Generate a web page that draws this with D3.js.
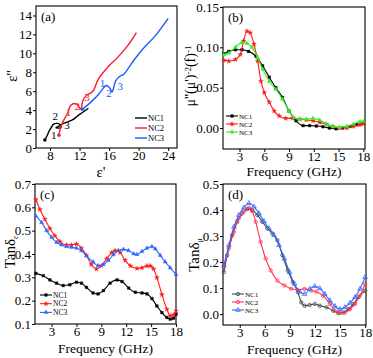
<!DOCTYPE html>
<html><head><meta charset="utf-8">
<script src="https://cdn.jsdelivr.net/npm/d3@7"></script>
<style>body{margin:0;background:#fff}svg{display:block}svg text{font-family:"Liberation Serif","Times New Roman",serif !important}</style>
</head><body><svg id="c" width="373" height="358"></svg>
<script>
// ---------- DATA ----------
const seriesNames = ["NC1","NC2","NC3"];
// (a) Cole-Cole: [eps', eps'']
const a_NC1 = [[7.3,0.85],[7.6,1.3],[7.95,1.9],[8.2,2.2],[8.45,2.5],[9.0,2.6],[9.4,2.45],[9.5,2.2],[9.1,2.1],[8.8,2.15],[9.2,2.3],[9.6,2.5],[10.0,2.65],[10.4,2.75],[11.1,3.0],[11.75,3.4],[12.4,3.75],[13.2,4.2]];
const a_NC2 = [[9.2,1.35],[9.5,2.3],[9.9,3.0],[10.4,3.7],[10.55,4.1],[10.8,4.5],[11.3,4.7],[11.8,4.5],[12.1,4.1],[12.25,4.3],[12.5,5.1],[13.0,5.6],[13.6,5.85],[13.9,6.1],[14.5,7.2],[15.9,8.6],[17.2,9.6],[18.6,10.9],[19.7,12.2]];
const a_NC3 = [[12.4,4.1],[13.6,4.9],[14.5,5.6],[15.2,6.3],[15.6,6.6],[15.9,6.5],[16.2,6.2],[16.4,5.9],[16.6,6.3],[16.9,7.1],[17.5,7.6],[18.0,7.8],[19.1,9.0],[20.4,10.3],[22.3,11.9],[24.0,13.7]];
const a_labels = [
  {s:0,t:"1",x:8.5,y:1.0},{s:0,t:"2",x:8.7,y:3.0},{s:0,t:"3",x:10.3,y:2.0},
  {s:1,t:"1",x:10.5,y:3.4},{s:1,t:"2",x:11.7,y:4.0},{s:1,t:"3",x:13.0,y:5.0},
  {s:2,t:"1",x:15.1,y:6.4},{s:2,t:"2",x:16.0,y:5.4},{s:2,t:"3",x:17.5,y:6.1}
];
const a_xticks = [8,12,16,20,24];
const a_yticks = [0,2,4,6,8,10,12,14];

// (b) mu''(mu')^-2 f^-1 vs frequency
const b_freq1 = [1.1,1.7,2.5,3.3,4.1,5.0,5.8,6.6,7.4,8.2,9.0,9.85,10.7,11.5,12.3,13.1,13.9,14.7,15.5,16.4,17.2,18.0];
const b_NC1 = [0.092,0.095,0.097,0.097,0.095,0.089,0.077,0.063,0.050,0.038,0.021,0.009,0.003,0.003,0.0025,0.0016,0.0,-0.001,0.0,0.002,0.004,0.006];
const b_freq2 = [1.1,1.7,2.5,3.1,3.5,3.9,4.3,4.75,5.2,5.6,6.0,6.6,7.2,7.8,8.6,9.4,10.3,11.1,11.9,12.7,13.5,14.3,15.1,16.0,16.8,17.6,18.0];
const b_NC2 = [0.084,0.083,0.085,0.091,0.108,0.120,0.118,0.104,0.083,0.058,0.044,0.032,0.021,0.015,0.012,0.012,0.011,0.010,0.009,0.007,0.005,0.002,0.0,0.0,0.002,0.004,0.005];
const b_freq3 = [1.1,1.7,2.5,3.3,3.9,4.5,5.2,5.8,6.6,7.4,8.2,9.0,9.6,10.3,11.1,11.9,12.7,13.5,14.3,15.1,16.0,16.8,17.6,18.0];
const b_NC3 = [0.091,0.093,0.100,0.106,0.105,0.100,0.087,0.073,0.058,0.048,0.036,0.021,0.013,0.011,0.011,0.012,0.010,0.005,0.002,0.001,0.002,0.005,0.008,0.008];
const b_xticks = [3,6,9,12,15,18];
const b_yticks = [0.00,0.05,0.10,0.15];

// (c) tan delta_e
const c_freq1 = [1.1,2.0,2.8,3.6,4.4,5.2,6.0,6.6,7.2,8.0,8.6,9.25,10.05,10.9,11.5,12.3,13.1,13.9,14.5,15.1,15.7,16.3,16.9,17.3,17.7,18.0];
const c_NC1 = [0.317,0.307,0.289,0.275,0.265,0.268,0.279,0.275,0.257,0.233,0.229,0.243,0.275,0.289,0.282,0.254,0.236,0.233,0.229,0.209,0.177,0.149,0.128,0.121,0.125,0.142];
const c_freq2 = [1.1,1.6,2.2,2.8,3.4,4.0,4.8,5.4,6.0,6.6,7.2,7.8,8.4,9.0,9.65,10.26,10.66,11.27,11.87,12.5,13.3,13.9,14.5,14.9,15.3,15.7,16.3,16.9,17.3,17.7,18.0];
const c_NC2 = [0.633,0.591,0.549,0.509,0.478,0.453,0.439,0.439,0.443,0.425,0.394,0.355,0.336,0.350,0.380,0.406,0.415,0.406,0.373,0.349,0.338,0.341,0.349,0.349,0.336,0.299,0.226,0.163,0.135,0.139,0.156];
const c_freq3 = [1.1,1.8,2.4,3.0,3.6,4.2,4.8,5.4,6.0,6.6,7.2,8.0,8.6,9.25,9.85,10.46,11.06,11.67,12.27,12.9,13.3,13.9,14.5,15.1,15.5,16.1,16.7,17.3,18.0];
const c_NC3 = [0.563,0.535,0.500,0.471,0.450,0.439,0.432,0.429,0.425,0.415,0.392,0.366,0.350,0.355,0.373,0.397,0.415,0.420,0.415,0.401,0.398,0.411,0.425,0.432,0.422,0.394,0.366,0.341,0.313];
const c_xticks = [3,6,9,12,15,18];
const c_yticks = [0.1,0.2,0.3,0.4,0.5,0.6,0.7];

// (d) tan delta_mu
const d_freq1 = [1.1,1.5,2.1,2.7,3.3,3.9,4.5,5.1,5.7,6.3,6.9,7.5,8.1,8.75,9.35,9.95,10.36,10.76,11.36,11.97,12.57,13.37,14.18,14.78,15.38,15.99,16.6,17.2,18.0];
const d_NC1 = [0.161,0.226,0.303,0.355,0.387,0.403,0.400,0.381,0.355,0.329,0.310,0.284,0.226,0.168,0.123,0.084,0.045,0.032,0.035,0.039,0.032,0.026,0.013,0.004,0.006,0.019,0.039,0.065,0.090];
const d_freq2 = [1.1,1.7,2.3,2.9,3.5,4.1,4.5,4.9,5.5,6.1,6.7,7.5,8.35,9.15,9.96,10.76,11.56,12.17,12.97,13.78,14.38,14.98,15.58,16.19,16.79,17.39,18.0];
const d_NC2 = [0.181,0.252,0.316,0.368,0.394,0.409,0.396,0.355,0.277,0.213,0.168,0.129,0.110,0.097,0.093,0.097,0.090,0.086,0.071,0.039,0.013,0.004,0.006,0.019,0.039,0.071,0.116];
const d_freq3 = [1.1,1.7,2.3,2.9,3.5,4.1,4.7,5.3,5.9,6.5,7.1,7.7,8.35,8.95,9.55,10.16,10.76,11.36,11.97,12.57,13.17,13.78,14.38,14.98,15.58,16.19,16.79,17.39,18.0];
const d_NC3 = [0.187,0.265,0.335,0.381,0.409,0.426,0.413,0.387,0.357,0.329,0.303,0.265,0.213,0.161,0.116,0.086,0.077,0.097,0.107,0.099,0.077,0.052,0.030,0.019,0.026,0.043,0.065,0.097,0.142];
const d_xticks = [3,6,9,12,15,18];
const d_yticks = [0.0,0.1,0.2,0.3,0.4,0.5];

// ---------- DRAW ----------
const svg = d3.select("#c");
const FONT = '"Liberation Serif", "Times New Roman", serif';
function T(sel){ return sel.style("font-family",FONT); }

function panel(o){
  const g = svg.append("g");
  const x = d3.scaleLinear().domain(o.xd).range([o.L,o.R]);
  const y = d3.scaleLinear().domain(o.yd).range([o.B,o.T]);
  const xa = d3.axisBottom(x).tickValues(o.xt).tickSize(3).tickFormat(o.xf||d3.format("d"));
  const ya = d3.axisLeft(y).tickValues(o.yt).tickSize(3).tickFormat(o.yf);
  const gx = g.append("g").attr("transform",`translate(0,${o.B})`).call(xa);
  const gy = g.append("g").attr("transform",`translate(${o.L},0)`).call(ya);
  [gx,gy].forEach(a=>{a.attr("font-family",null).attr("font-size",null);
    a.select(".domain").remove();a.selectAll("line").attr("stroke","#000");
    T(a.selectAll("text")).style("font-size","13px").attr("fill","#000");});
  gx.selectAll("text").attr("y",3).attr("dy","0.71em");
  gy.selectAll("text").attr("x",-4);
  g.append("rect").attr("x",o.L).attr("y",o.T).attr("width",o.R-o.L).attr("height",o.B-o.T)
    .attr("fill","none").attr("stroke","#000").attr("stroke-width",1.1);
  T(g.append("text")).attr("x",o.L+5).attr("y",o.T+15).style("font-size","13px").text(o.tag);
  return {g,x,y};
}

// (a)
{
  const p = panel({L:36,R:177,T:6,B:148,xd:[6.1,25.2],yd:[0,15],xt:a_xticks,yt:a_yticks,yf:d3.format("d"),tag:"(a)"});
  const cols = ["#000","#ff1a2e","#1a5cff"];
  const line = d3.line().x(d=>p.x(d[0])).y(d=>p.y(d[1])).curve(d3.curveCatmullRom.alpha(0.5));
  [a_NC1,a_NC2,a_NC3].forEach((s,i)=>{
    p.g.append("path").attr("d",line(s)).attr("fill","none").attr("stroke",cols[i]).attr("stroke-width",1.4);
    p.g.append("circle").attr("cx",p.x(s[0][0])).attr("cy",p.y(s[0][1])).attr("r",1.8).attr("fill",cols[i]);
  });
  a_labels.forEach(l=>T(p.g.append("text")).attr("x",p.x(l.x)).attr("y",p.y(l.y)).attr("text-anchor","middle")
    .style("font-size","11px").attr("fill",cols[l.s]).text(l.t));
  seriesNames.forEach((n,i)=>{
    const yy = 118+i*10;
    p.g.append("line").attr("x1",135).attr("x2",147).attr("y1",yy).attr("y2",yy).attr("stroke",cols[i]).attr("stroke-width",1.4);
    T(p.g.append("text")).attr("x",148).attr("y",yy+3).style("font-size","8.5px").text(n);
  });
  T(svg.append("text")).attr("x",101).attr("y",177).attr("text-anchor","middle").style("font-size","15px").text("ε'");
  T(svg.append("text")).attr("transform","translate(17,76) rotate(-90)").attr("text-anchor","middle").style("font-size","15px").text("ε''");
}

function freqPanel(o, sets, cols, marker, fillOpen){
  const p = panel(o);
  const line = d3.line().x(d=>p.x(d[0])).y(d=>p.y(d[1])).curve(d3.curveMonotoneX);
  sets.forEach((s,i)=>{
    const pts = s[0].map((f,k)=>[f,s[1][k]]);
    p.g.append("path").attr("d",line(pts)).attr("fill","none").attr("stroke",cols[i]).attr("stroke-width",1.1);
    const sym = d3.symbol().type(marker[i]).size(fillOpen?9:7);
    p.g.selectAll(null).data(pts).join("path").attr("d",sym)
      .attr("transform",d=>`translate(${p.x(d[0])},${p.y(d[1])})`)
      .attr("fill",fillOpen?"none":cols[i]).attr("stroke",cols[i]).attr("stroke-width",fillOpen?0.8:0.4);
  });
  seriesNames.forEach((n,i)=>{
    const yy = o.legY+i*o.legDy;
    p.g.append("line").attr("x1",o.legX).attr("x2",o.legX+12).attr("y1",yy).attr("y2",yy).attr("stroke",cols[i]).attr("stroke-width",1.1);
    p.g.append("path").attr("d",d3.symbol().type(marker[i]).size(fillOpen?9:7)()).attr("transform",`translate(${o.legX+6},${yy})`)
      .attr("fill",fillOpen?"none":cols[i]).attr("stroke",cols[i]).attr("stroke-width",fillOpen?0.8:0.4);
    T(p.g.append("text")).attr("x",o.legX+13).attr("y",yy+2.5).style("font-size",o.legFs+"px").text(n);
  });
  T(svg.append("text")).attr("x",(o.L+o.R)/2).attr("y",o.B+o.titleDy).attr("text-anchor","middle").style("font-size","13.5px").text("Frequency (GHz)");
  return p;
}

// (b)
freqPanel({L:223,R:365,T:7,B:149,xd:[1,18.2],yd:[-0.026,0.15],xt:b_xticks,yt:b_yticks,yf:d3.format(".2f"),tag:"(b)",legX:226,legY:116,legDy:8,legFs:7,titleDy:27},
  [[b_freq1,b_NC1],[b_freq2,b_NC2],[b_freq3,b_NC3]],["#000","#ff1a1a","#33ee22"],[d3.symbolSquare,d3.symbolStar,d3.symbolTriangle],false);
{
  const t = T(svg.append("text")).attr("transform","translate(195,76) rotate(-90)").attr("text-anchor","middle").style("font-size","14px");
  t.append("tspan").text("μ''(μ')");
  t.append("tspan").attr("dy",-4).style("font-size","9px").text("-2");
  t.append("tspan").attr("dy",4).text("(f)");
  t.append("tspan").attr("dy",-4).style("font-size","9px").text("-1");
}
// (c)
freqPanel({L:35,R:176,T:184,B:324,xd:[1,18],yd:[0.1,0.7],xt:c_xticks,yt:c_yticks,yf:d3.format(".1f"),tag:"(c)",legX:40,legY:295,legDy:8.7,legFs:7.5,titleDy:29},
  [[c_freq1,c_NC1],[c_freq2,c_NC2],[c_freq3,c_NC3]],["#000","#ff1a1a","#2f66ff"],[d3.symbolSquare,d3.symbolStar,d3.symbolTriangle],false);
{
  const t = T(svg.append("text")).attr("transform","translate(15,252) rotate(-90)").attr("text-anchor","middle").style("font-size","15px");
  t.append("tspan").text("Tanδ");
  t.append("tspan").attr("dy",3).style("font-size","8px").text("ε");
}
// (d)
freqPanel({L:223,R:366,T:184,B:325,xd:[1,18.1],yd:[-0.042,0.5],xt:d_xticks,yt:d_yticks,yf:d3.format(".1f"),tag:"(d)",legX:232,legY:294,legDy:8,legFs:7,titleDy:29},
  [[d_freq1,d_NC1],[d_freq2,d_NC2],[d_freq3,d_NC3]],["#444","#ff3355","#3366ff"],[d3.symbolCircle,d3.symbolCircle,d3.symbolTriangle],true);
{
  const t = T(svg.append("text")).attr("transform","translate(199,255) rotate(-90)").attr("text-anchor","middle").style("font-size","15px");
  t.append("tspan").text("Tanδ");
  t.append("tspan").attr("dy",3).style("font-size","8px").text("μ");
}
</script></body></html>
